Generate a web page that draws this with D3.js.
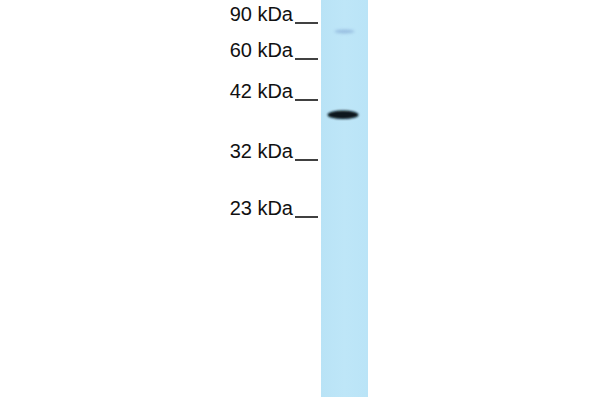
<!DOCTYPE html>
<html><head><meta charset="utf-8">
<script src="https://cdn.jsdelivr.net/npm/d3@7"></script>
<style>html,body{margin:0;padding:0;background:#fff;}svg{display:block;}</style>
</head><body>
<svg id="c" width="600" height="400"></svg>
<script>
// Marker ladder (kDa) and labels
const markers = [90, 60, 42, 32, 23];
const markerLabels = ["90 kDa", "60 kDa", "42 kDa", "32 kDa", "23 kDa"];
// Detected bands (estimated apparent size, kDa) and relative intensity
const bandSizes = [39.3, 81.7];
const bandIntensity = [1.0, 0.18];

const svg = d3.select("#c");
const W = 600, H = 400;
svg.append("rect").attr("width", W).attr("height", H).attr("fill", "#fff");

// piecewise migration scale: kDa -> y (label baseline)
const y = d3.scaleLinear().domain(markers).range([21, 57, 98, 158, 215]);

const lane = {x0: 321, x1: 368, y0: 0, y1: 397};
const defs = svg.append("defs");
const lg = defs.append("linearGradient").attr("id", "laneG").attr("x1", 0).attr("x2", 1);
lg.append("stop").attr("offset", "0%").attr("stop-color", "#b9e3f6");
lg.append("stop").attr("offset", "50%").attr("stop-color", "#bee6f8");
lg.append("stop").attr("offset", "100%").attr("stop-color", "#bae4f7");
defs.append("filter").attr("id", "blur").attr("x", "-50%").attr("y", "-100%").attr("width", "200%").attr("height", "300%")
  .append("feGaussianBlur").attr("stdDeviation", 1.3);
defs.append("filter").attr("id", "blur2").attr("x", "-50%").attr("y", "-200%").attr("width", "200%").attr("height", "500%")
  .append("feGaussianBlur").attr("stdDeviation", 1.8);

svg.append("rect").attr("x", lane.x0).attr("y", lane.y0)
  .attr("width", lane.x1 - lane.x0).attr("height", lane.y1 - lane.y0)
  .attr("fill", "url(#laneG)");

// bands
const cx = (lane.x0 + lane.x1) / 2;
const bandData = bandSizes.map((s, i) => ({s, k: bandIntensity[i]}));
svg.selectAll("ellipse.band").data(bandData).join("ellipse")
  .attr("class", "band")
  .attr("cx", d => d.k > 0.5 ? cx - 1.5 : cx)
  .attr("cy", d => y(d.s) + 0.5)
  .attr("rx", d => d.k > 0.5 ? 15.5 : 10)
  .attr("ry", d => d.k > 0.5 ? 4.3 : 2)
  .attr("fill", d => d.k > 0.5 ? "#07141f" : "#86acd6")
  .attr("opacity", d => d.k > 0.5 ? 1 : 0.7)
  .attr("filter", d => d.k > 0.5 ? "url(#blur)" : "url(#blur2)");

// marker labels and ticks
const g = svg.append("g");
g.selectAll("text").data(markers).join("text")
  .attr("x", 293).attr("y", d => y(d))
  .attr("text-anchor", "end")
  .attr("font-family", "Liberation Sans, Arial, sans-serif")
  .attr("font-size", 20)
  .attr("fill", "#111")
  .text((d, i) => markerLabels[i]);
g.selectAll("line").data(markers).join("line")
  .attr("x1", 295).attr("x2", 318)
  .attr("y1", d => y(d) + 2).attr("y2", d => y(d) + 2)
  .attr("stroke", "#111").attr("stroke-width", 1.6);
</script>
</body></html>
